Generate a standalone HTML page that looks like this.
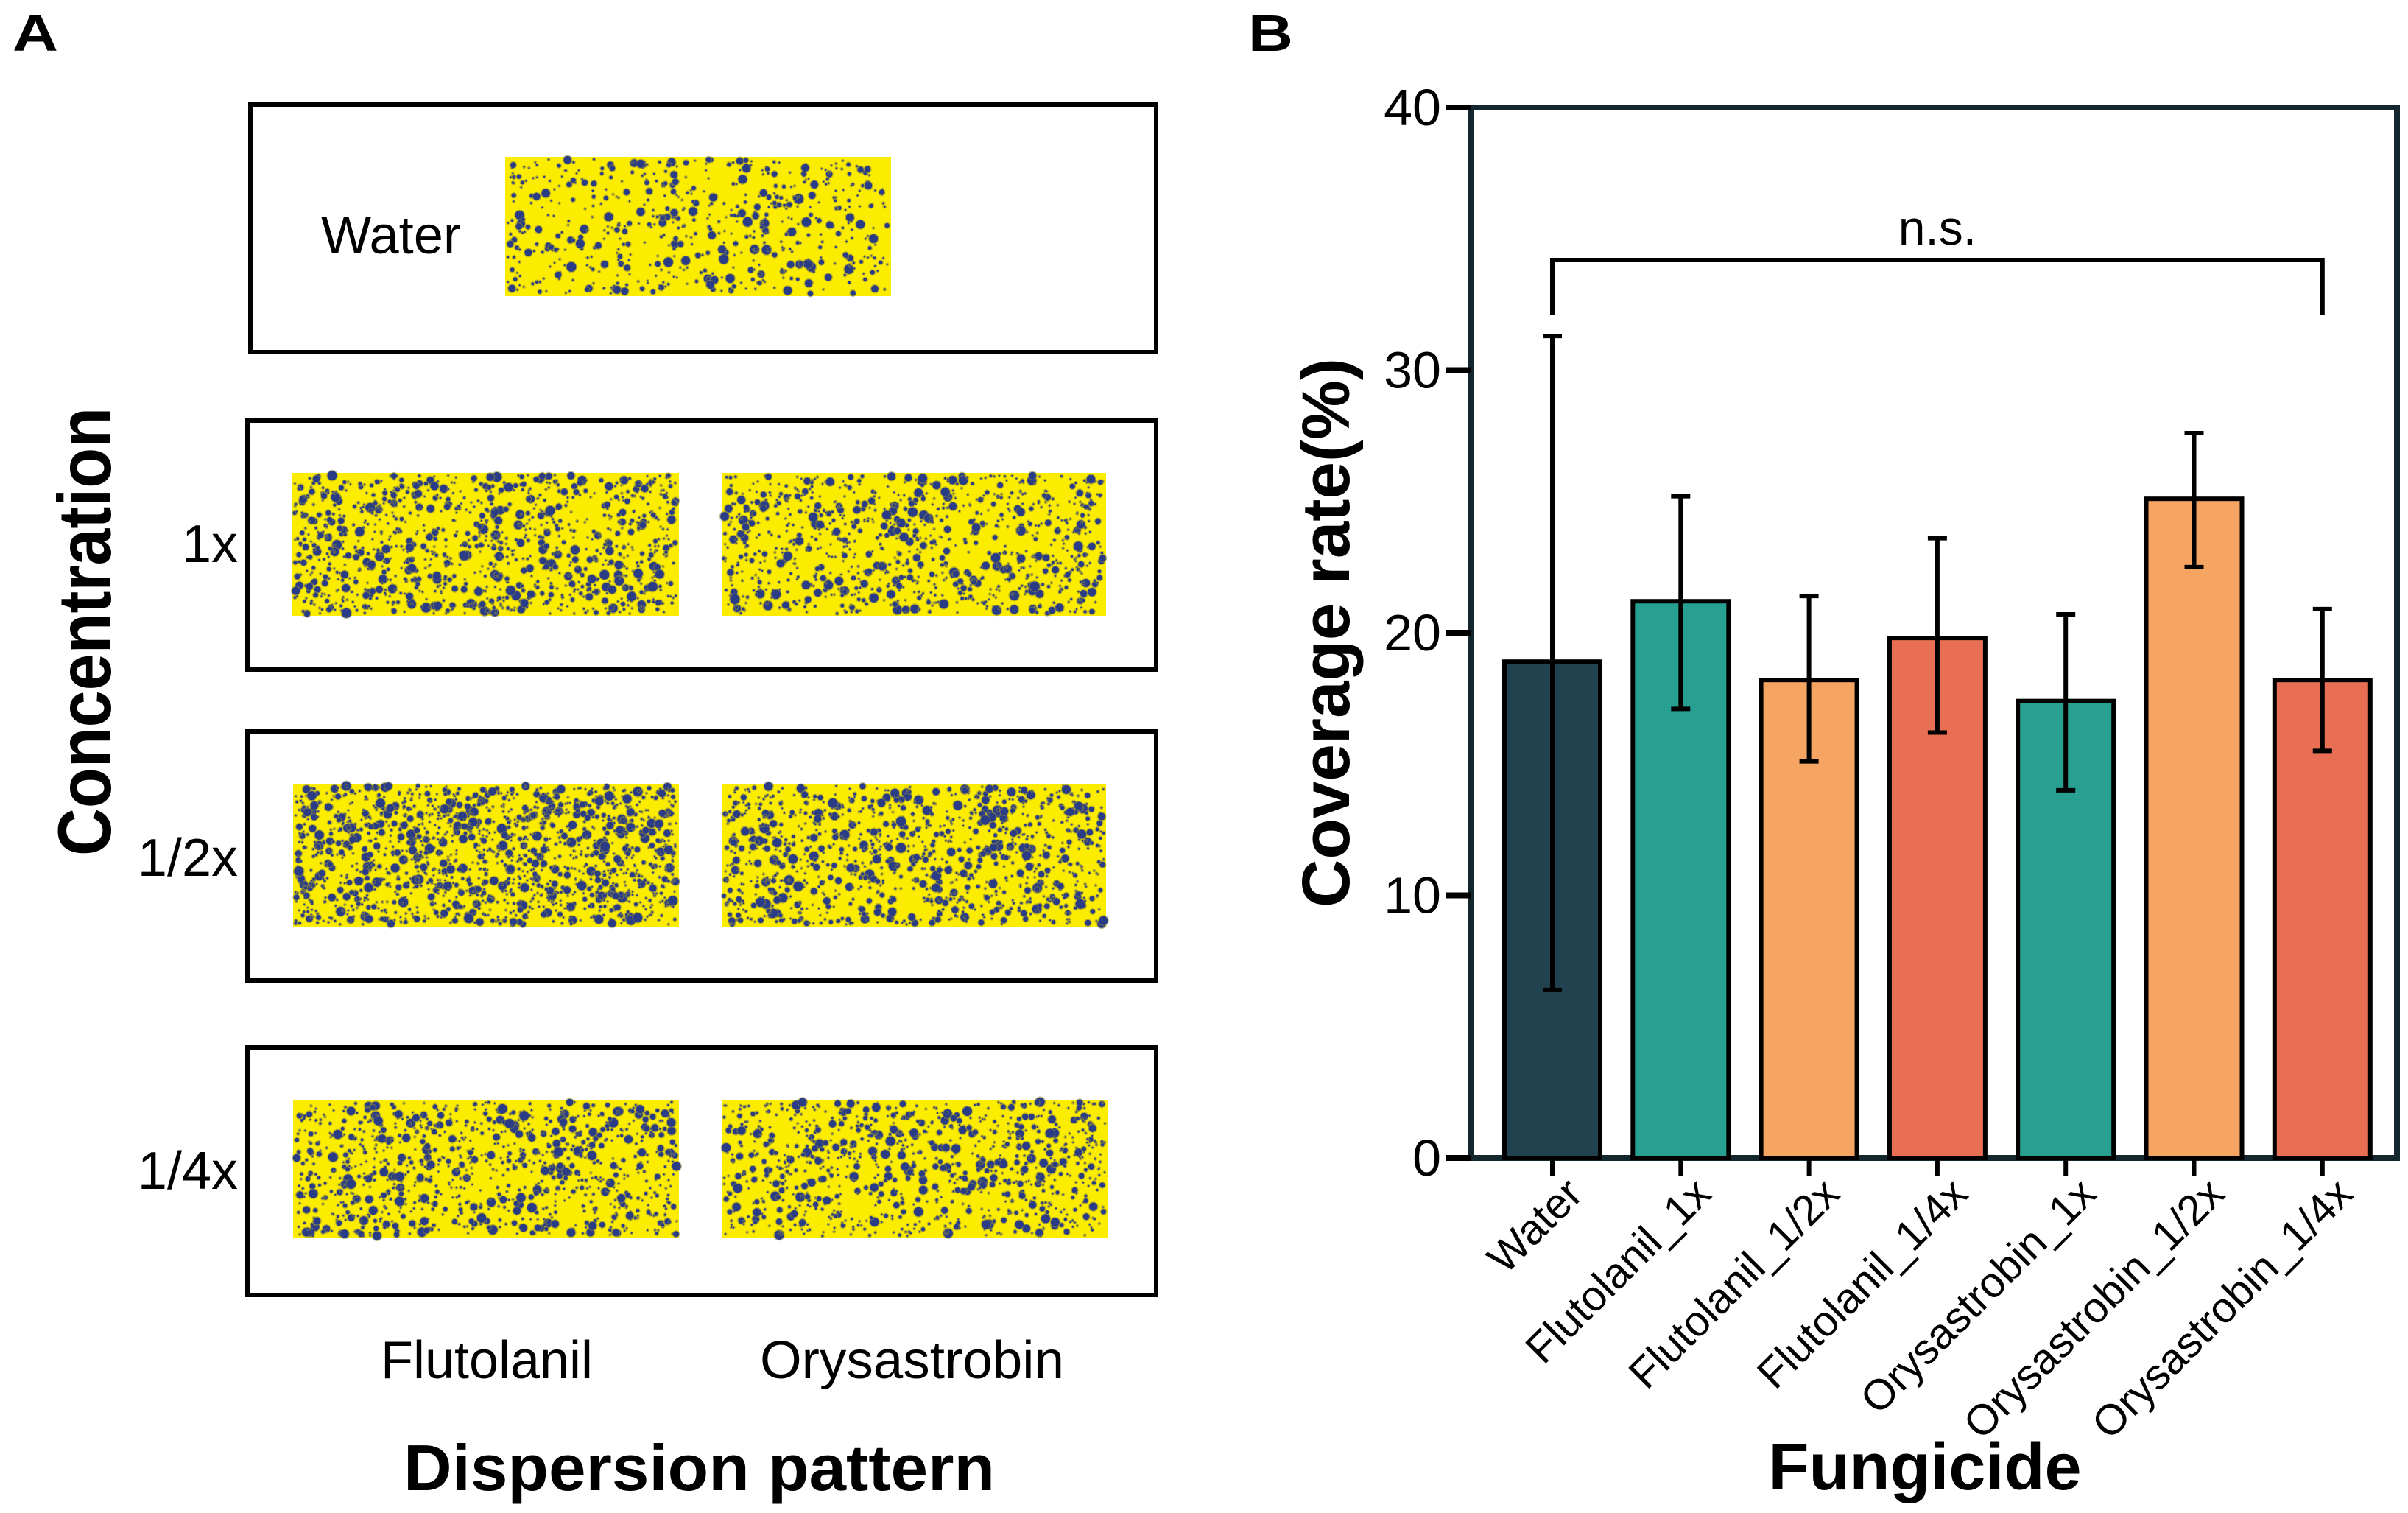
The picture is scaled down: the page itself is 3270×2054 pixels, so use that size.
<!DOCTYPE html>
<html><head><meta charset="utf-8">
<style>
html,body{margin:0;padding:0;background:#fff;}
svg{display:block;font-family:"Liberation Sans",Arial,sans-serif;}
</style></head>
<body>
<svg id="fig" width="3270" height="2054" viewBox="0 0 3270 2054" xmlns="http://www.w3.org/2000/svg">
<rect x="0" y="0" width="3270" height="2054" fill="#fff"/>
<!-- Panel A -->
<g id="panelA">
  <text x="17" y="69" font-size="70" font-weight="bold" textLength="62" lengthAdjust="spacingAndGlyphs">A</text>
  <rect x="340" y="142" width="1230" height="336" fill="none" stroke="#000" stroke-width="6"/>
  <rect x="336" y="571" width="1234" height="338" fill="none" stroke="#000" stroke-width="6"/>
  <rect x="336" y="993" width="1234" height="338" fill="none" stroke="#000" stroke-width="6"/>
  <rect x="336" y="1422" width="1234" height="336" fill="none" stroke="#000" stroke-width="6"/>
  <g id="cards"></g>
  <text x="436" y="344" font-size="72" textLength="190" lengthAdjust="spacingAndGlyphs">Water</text>
  <text x="323" y="763" font-size="72" text-anchor="end">1x</text>
  <text x="323" y="1189" font-size="72" text-anchor="end">1/2x</text>
  <text x="323" y="1614" font-size="72" text-anchor="end">1/4x</text>
  <text x="517" y="1871" font-size="72" textLength="288" lengthAdjust="spacingAndGlyphs">Flutolanil</text>
  <text x="1032" y="1871" font-size="72" textLength="413" lengthAdjust="spacingAndGlyphs">Orysastrobin</text>
  <text x="548" y="2023" font-size="88" font-weight="bold" textLength="803" lengthAdjust="spacingAndGlyphs">Dispersion pattern</text>
  <text transform="translate(150,1162) rotate(-90)" x="0" y="0" font-size="102" font-weight="bold" textLength="609" lengthAdjust="spacingAndGlyphs">Concentration</text>
</g>
<!-- Panel B -->
<g id="panelB">
  <text x="1695" y="69" font-size="70" font-weight="bold" textLength="61" lengthAdjust="spacingAndGlyphs">B</text>
  <g id="chart"></g>
  <text transform="translate(1832,1232) rotate(-90)" x="0" y="0" font-size="92" font-weight="bold" textLength="746" lengthAdjust="spacingAndGlyphs">Coverage rate(%)</text>
  <text x="2614" y="2022" font-size="90" font-weight="bold" text-anchor="middle">Fungicide</text>
</g>
</svg>
<script>
var NS='http://www.w3.org/2000/svg';
// ---- chart data ----
var categories=['Water','Flutolanil_1x','Flutolanil_1/2x','Flutolanil_1/4x','Orysastrobin_1x','Orysastrobin_1/2x','Orysastrobin_1/4x'];
var means=[18.9,21.2,18.2,19.8,17.4,25.1,18.2];
var errUpper=[31.3,25.2,21.4,23.6,20.7,27.6,20.9];
var errLower=[6.4,17.1,15.1,16.2,14.0,22.5,15.5];
var barColors=['#22424f','#27a092','#f5a462','#e86f53','#27a092','#f5a462','#e86f53'];
var yTicks=[0,10,20,30,40];
var sigLabel='n.s.';

var X0=1997,X1=3255,Y0=1572,Y1=146,yMax=40;
function yScale(v){return Y0-(v/yMax)*(Y0-Y1);}
var step=174.3, firstCenter=2108;
function xScale(i){return firstCenter+i*step;}
var chart=document.getElementById('chart');
function mk(tag,attrs,parent){var e=document.createElementNS(NS,tag);for(var k in attrs)e.setAttribute(k,attrs[k]);(parent||chart).appendChild(e);return e;}

var frame=mk('rect',{x:X0,y:Y1,width:X1-X0,height:Y0-Y1,fill:'none',stroke:'#14262e','stroke-width':8});



yTicks.forEach(function(t){
  var y=yScale(t);
  var tk=mk('line',{x1:X0-34,x2:X0,y1:y,y2:y,stroke:'#000','stroke-width':8});
  
  
  var lb=mk('text',{x:X0-40,y:y+24,'font-size':70,'text-anchor':'end'});
  lb.textContent=t;
  
  
});

var bw=130;
categories.forEach(function(c,i){
  var cx=xScale(i), yt=yScale(means[i]);
  var b=mk('rect',{x:cx-bw/2,y:yt,width:bw,height:Y0-yt,fill:barColors[i],stroke:'#000','stroke-width':6});
  
  
  var eu=yScale(errUpper[i]), el=yScale(errLower[i]);
  var g=mk('g',{stroke:'#000','stroke-width':6});
  
  
  mk('line',{x1:cx,x2:cx,y1:eu,y2:el},g);
  mk('line',{x1:cx-13,x2:cx+13,y1:eu,y2:eu},g);
  mk('line',{x1:cx-13,x2:cx+13,y1:el,y2:el},g);
  var tk=mk('line',{x1:cx,x2:cx,y1:Y0,y2:Y0+24,stroke:'#000','stroke-width':6});
  
  
  var lb=mk('text',{transform:'translate('+(cx+44)+','+(Y0+52)+') rotate(-45)','font-size':58,'text-anchor':'end',x:0,y:0});
  lb.textContent=c;
  
  
});

var bx1=xScale(0), bx2=xScale(categories.length-1), by=353, bb=428;
var br=mk('path',{d:'M'+bx1+','+bb+' V'+by+' H'+bx2+' V'+bb,fill:'none',stroke:'#000','stroke-width':6});


var ns=mk('text',{x:(bx1+bx2)/2,y:332,'font-size':66,'text-anchor':'middle'});
ns.textContent=sigLabel;



// ---- Panel A cards (decorative texture) ----
var cardsG=document.getElementById('cards');
var cards=[
 ['water-card',686,213,524,189,600],
 ['flutolanil-1x-card',396,642,526,194,1100],
 ['orysastrobin-1x-card',980,642,522,194,950],
 ['flutolanil-half-x-card',398,1064,524,194,1500],
 ['orysastrobin-half-x-card',980,1064,522,194,1100],
 ['flutolanil-quarter-x-card',398,1493,524,188,1000],
 ['orysastrobin-quarter-x-card',980,1493,524,188,950]
];
var seed=12345;
function rnd(){seed=(seed*1103515245+12345)%2147483648;return seed/2147483648;}
cards.forEach(function(c){
  var g=document.createElementNS(NS,'g');
  
  
  cardsG.appendChild(g);
  mk('rect',{x:c[1],y:c[2],width:c[3],height:c[4],fill:'#fbec00'},g);
  for(var k=0;k<c[5];k++){
    var r=1.1+Math.pow(rnd(),4)*5.5;
    var x=c[1]+3+rnd()*(c[3]-6), y=c[2]+3+rnd()*(c[4]-6);
    mk('circle',{cx:x.toFixed(1),cy:y.toFixed(1),r:(r+1.3).toFixed(1),fill:'#8f8a3a',opacity:0.55},g);
    mk('circle',{cx:x.toFixed(1),cy:y.toFixed(1),r:r.toFixed(1),fill:'#2a3c86'},g);
  }
});
</script>
</body></html>
